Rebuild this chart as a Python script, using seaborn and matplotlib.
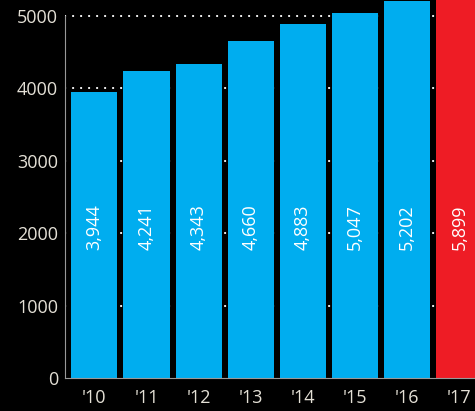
import pandas as pd
import matplotlib.pyplot as plt
import seaborn as sns

years = ["'10", "'11", "'12", "'13", "'14", "'15", "'16", "'17"]
values = [3944, 4241, 4343, 4660, 4883, 5047, 5202, 5899]
labels = ["3,944", "4,241", "4,343", "4,660", "4,883", "5,047", "5,202", "5,899"]
yticks = [0, 1000, 2000, 3000, 4000, 5000]

df = pd.DataFrame({"year": years, "value": values})

sns.set_style("dark")
plt.rcParams['font.family'] = ['Open Sans', 'DejaVu Sans']

fig = plt.figure(figsize=(4.75, 4.11), dpi=100, facecolor='black')
ax = fig.add_axes([0.137, 0.08, 0.863, 0.92])
ax.set_facecolor('black')

# dotted gridlines behind the bars
for y in yticks[1:]:
    ax.axhline(y, color='white', linestyle=(0, (0.1, 3.74)), linewidth=1.5,
               dash_capstyle='round', zorder=0)

palette = ['#00adef'] * 7 + ['#ee1c25']
sns.barplot(data=df, x='year', y='value', hue='year', palette=palette,
            width=0.885, legend=False, ax=ax, saturation=1, linewidth=0, zorder=2)

for i, lab in enumerate(labels):
    ax.text(i, 2080, lab, rotation=90, ha='center', va='center',
            color='white', fontsize=13, zorder=3)

ax.set_xlim(-0.56, 7.3)
ax.set_ylim(0, 5220)
ax.set_yticks(yticks)
ax.set_xlabel('')
ax.set_ylabel('')
ax.grid(False)
ax.tick_params(colors='#e4e0d6', labelsize=13, length=0)
ax.tick_params(axis='y', pad=5)
ax.tick_params(axis='x', pad=8)

for s in ['top', 'right']:
    ax.spines[s].set_visible(False)
ax.spines['left'].set_color('#999999')
ax.spines['bottom'].set_color('#999999')
ax.spines['left'].set_bounds(0, 5000)
ax.spines['left'].set_zorder(4)

fig.savefig('out.png', dpi=100, facecolor='black')
